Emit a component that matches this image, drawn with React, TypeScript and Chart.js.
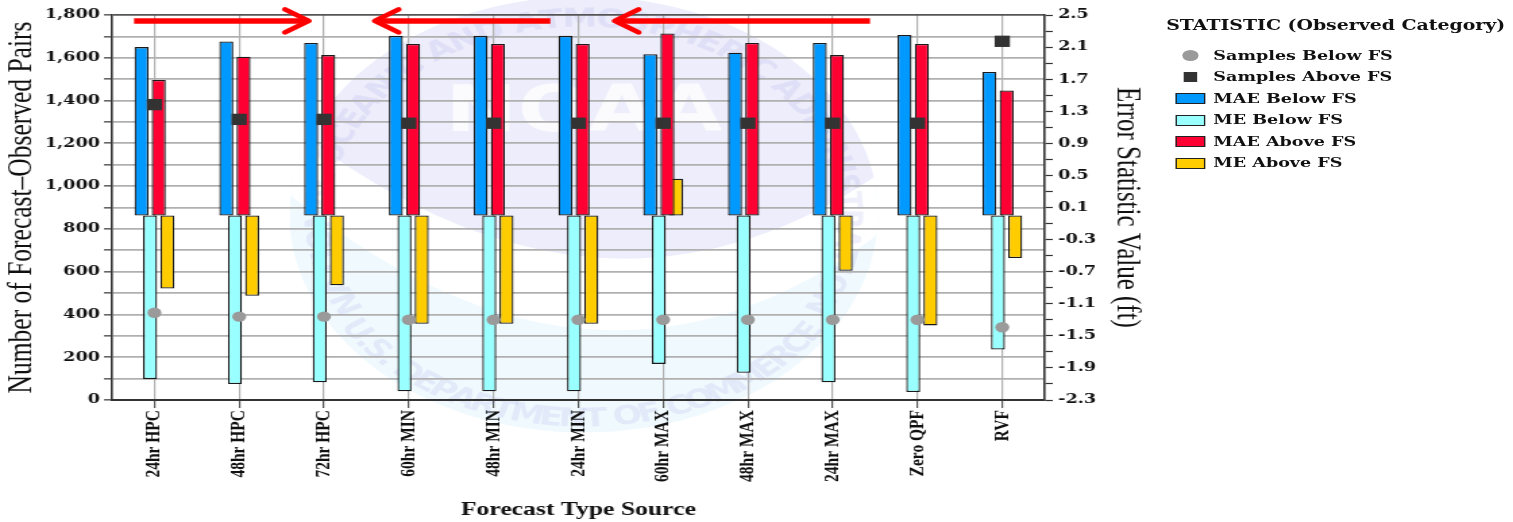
import React, { useEffect, useRef } from 'react';
import { Chart, registerables } from 'chart.js';

Chart.register(...registerables);

// Forecast sources along the category axis
const forecastSources = [
  '24hr HPC', '48hr HPC', '72hr HPC', '60hr MIN', '48hr MIN', '24hr MIN',
  '60hr MAX', '48hr MAX', '24hr MAX', 'Zero QPF', 'RVF',
];

// Number of forecast–observed pairs (left axis)
const samplesBelowFS = [408, 390, 390, 375, 375, 375, 375, 375, 375, 375, 340];
const samplesAboveFS = [1381, 1312, 1312, 1294, 1294, 1294, 1294, 1294, 1294, 1294, 1677];

// Error statistics in feet (right axis)
const maeBelowFS = [2.10, 2.17, 2.15, 2.24, 2.24, 2.24, 2.01, 2.03, 2.15, 2.25, 1.79];
const meBelowFS = [-2.04, -2.10, -2.08, -2.19, -2.19, -2.19, -1.85, -1.96, -2.08, -2.20, -1.67];
const maeAboveFS = [1.69, 1.98, 2.00, 2.14, 2.14, 2.14, 2.27, 2.15, 2.00, 2.14, 1.56];
const meAboveFS = [-0.91, -1.00, -0.87, -1.35, -1.35, -1.35, 0.46, null, -0.69, -1.37, -0.53];

// Tick values
const pairLabelValues = [0, 200, 400, 600, 800, 1000, 1200, 1400, 1600, 1800];
const pairMinorValues = [100, 300, 500, 700, 900, 1100, 1300, 1500, 1700];
const errorLabelValues = [-2.3, -1.9, -1.5, -1.1, -0.7, -0.3, 0.1, 0.5, 0.9, 1.3, 1.7, 2.1, 2.5];
const errorMinorValues = [-2.1, -1.7, -1.3, -0.9, -0.5, -0.1, 0.3, 0.7, 1.1, 1.5, 1.9, 2.3];

// Red direction arrows across the top: [tail, tip] in category-index units
const arrowSpans = [
  [-0.24, 1.82],
  [4.67, 2.6],
  [8.44, 5.43],
];
const arrowLevel = 1772;

// The chart is laid out on a 1121px-wide surface, then stretched to 1513px
const W = 1121;
const H = 522;
const STRETCH = 1513 / W;

const SERIF_BOLD = "'DejaVu Serif', serif";
const TIMES = "'Liberation Serif', 'Times New Roman', serif";

const COLORS = {
  maeBelow: '#0099ff',
  meBelow: '#99ffff',
  maeAbove: '#ff0033',
  meAbove: '#ffcc00',
  dot: '#9a9a9a',
  square: '#333333',
};

const legendItems = [
  { label: 'Samples Below FS', kind: 'dot', color: COLORS.dot },
  { label: 'Samples Above FS', kind: 'square', color: COLORS.square },
  { label: 'MAE Below FS', kind: 'box', color: COLORS.maeBelow },
  { label: 'ME Below FS', kind: 'box', color: COLORS.meBelow },
  { label: 'MAE Above FS', kind: 'box', color: COLORS.maeAbove },
  { label: 'ME Above FS', kind: 'box', color: COLORS.meAbove },
];

function arcText(ctx: CanvasRenderingContext2D, text: string, cx: number, cy: number, r: number, a0: number, a1: number, inward: boolean) {
  const chars = [...text];
  const widths = chars.map((ch) => ctx.measureText(ch).width);
  const total = widths.reduce((a, b) => a + b, 0);
  let acc = 0;
  chars.forEach((ch, i) => {
    const mid = (acc + widths[i] / 2) / total;
    acc += widths[i];
    const a = a0 + (a1 - a0) * mid;
    ctx.save();
    ctx.translate(cx + r * Math.cos(a), cy + r * Math.sin(a));
    ctx.rotate(inward ? a - Math.PI / 2 : a + Math.PI / 2);
    ctx.fillText(ch, 0, 0);
    ctx.restore();
  });
}

// Faint agency seal behind the plot
const watermarkPlugin = {
  id: 'sealWatermark',
  beforeDraw(chart: any) {
    const { ctx, chartArea } = chart;
    const cx = (chartArea.left + chartArea.right) / 2 + 4;
    const cy = (chartArea.top + chartArea.bottom) / 2 + 7;
    const R = 218;
    const deg = Math.PI / 180;
    ctx.save();
    ctx.fillStyle = '#ffffff';
    ctx.fillRect(0, 0, chart.width, chart.height);

    ctx.save();
    ctx.beginPath();
    ctx.arc(cx, cy, R, 0, Math.PI * 2);
    ctx.clip();
    ctx.fillStyle = '#f0fafe';
    ctx.fillRect(cx - R, cy - R, 2 * R, 2 * R);
    // white gull band
    ctx.fillStyle = '#ffffff';
    ctx.beginPath();
    ctx.moveTo(cx - R, cy - 90);
    ctx.quadraticCurveTo(cx + 10, cy + 150, cx + R, cy - 40);
    ctx.lineTo(cx + R, cy + 20);
    ctx.quadraticCurveTo(cx + 10, cy + 230, cx - R, cy - 20);
    ctx.closePath();
    ctx.fill();
    // sky
    ctx.fillStyle = '#ededfb';
    ctx.beginPath();
    ctx.moveTo(cx - R, cy - 90);
    ctx.quadraticCurveTo(cx + 10, cy + 150, cx + R, cy - 40);
    ctx.lineTo(cx + R, cy - R);
    ctx.lineTo(cx - R, cy - R);
    ctx.closePath();
    ctx.fill();
    ctx.restore();

    ctx.fillStyle = 'rgba(255,255,255,0.75)';
    ctx.font = "bold 64px 'DejaVu Sans', sans-serif";
    ctx.textAlign = 'center';
    ctx.textBaseline = 'middle';
    ctx.fillText('NOAA', cx, cy - 100);

    ctx.fillStyle = 'rgba(150,150,225,0.15)';
    ctx.font = "bold 26px 'DejaVu Sans', sans-serif";
    ctx.textBaseline = 'alphabetic';
    arcText(ctx, 'NATIONAL OCEANIC AND ATMOSPHERIC ADMINISTRATION', cx, cy, 188, 150 * deg, 390 * deg, false);
    arcText(ctx, 'U.S. DEPARTMENT OF COMMERCE', cx, cy, 212, 148 * deg, 33 * deg, true);
    ctx.restore();
  },
};

// Red arrows drawn over the top of the plot
const arrowPlugin = {
  id: 'directionArrows',
  afterDraw(chart: any) {
    const { ctx } = chart;
    const xs = chart.scales.x;
    const ys = chart.scales.y;
    const y = ys.getPixelForValue(arrowLevel);
    const catW = (xs.right - xs.left) / forecastSources.length;
    const head = 0.28 * catW;
    const spread = 11.5;
    ctx.save();
    ctx.strokeStyle = '#ff0000';
    arrowSpans.forEach(([from, to]) => {
      const x0 = xs.getPixelForValue(from);
      const x1 = xs.getPixelForValue(to);
      const dir = Math.sign(x1 - x0);
      ctx.lineWidth = 5.5;
      ctx.lineCap = 'butt';
      ctx.beginPath();
      ctx.moveTo(x0, y);
      ctx.lineTo(x1 - dir * 2, y);
      ctx.stroke();
      ctx.lineWidth = 4.5;
      ctx.lineCap = 'round';
      ctx.lineJoin = 'round';
      ctx.beginPath();
      ctx.moveTo(x1 - dir * head, y - spread);
      ctx.lineTo(x1, y);
      ctx.lineTo(x1 - dir * head, y + spread);
      ctx.stroke();
    });
    ctx.restore();
  },
};

const barStyle = {
  borderColor: '#1a1a1a',
  borderWidth: 1.3,
  borderSkipped: false,
  categoryPercentage: 0.406,
  barPercentage: 1.63,
  yAxisID: 'y1',
};

export default function App() {
  const canvasRef = useRef<HTMLCanvasElement | null>(null);

  useEffect(() => {
    const canvas = canvasRef.current;
    if (!canvas) return;
    const chart = new Chart(canvas, {
      type: 'bar',
      data: {
        labels: forecastSources,
        datasets: [
          {
            type: 'line',
            label: 'Samples Below FS',
            data: samplesBelowFS,
            yAxisID: 'y',
            showLine: false,
            borderColor: 'transparent',
            pointStyle: 'circle',
            pointRadius: 5.2,
            pointBackgroundColor: COLORS.dot,
            pointBorderWidth: 0,
            order: -1,
          },
          {
            type: 'line',
            label: 'Samples Above FS',
            data: samplesAboveFS,
            yAxisID: 'y',
            showLine: false,
            borderColor: 'transparent',
            pointStyle: 'rect',
            pointRadius: 8,
            pointBackgroundColor: COLORS.square,
            pointBorderWidth: 0,
            order: -1,
          },
          { label: 'MAE Below FS', data: maeBelowFS, backgroundColor: COLORS.maeBelow, ...barStyle },
          { label: 'ME Below FS', data: meBelowFS, backgroundColor: COLORS.meBelow, ...barStyle },
          { label: 'MAE Above FS', data: maeAboveFS, backgroundColor: COLORS.maeAbove, ...barStyle },
          { label: 'ME Above FS', data: meAboveFS, backgroundColor: COLORS.meAbove, ...barStyle },
        ] as any,
      },
      options: {
        responsive: false,
        animation: false,
        devicePixelRatio: 1,
        layout: { padding: { left: 0, top: 15, right: 267, bottom: 0 } },
        plugins: {
          legend: { display: false },
          tooltip: { enabled: false },
        },
        scales: {
          x: {
            grid: {
              offset: false,
              color: '#b0b0b0',
              lineWidth: 1.2,
              tickColor: '#555555',
              tickLength: 8,
            },
            border: { color: '#333333', width: 2 },
            ticks: {
              autoSkip: false,
              maxRotation: 90,
              minRotation: 90,
              padding: 2,
              color: '#111111',
              font: { family: TIMES, weight: 'bold', size: 15.5 },
            },
            title: {
              display: true,
              text: 'Forecast Type Source',
              color: '#111111',
              font: { family: TIMES, weight: 'bold', size: 19, lineHeight: 1 },
              padding: { top: 0, bottom: 2.5 },
            },
            afterFit: (s: any) => {
              s.height = 122;
            },
          },
          y: {
            position: 'left',
            min: 0,
            max: 1800,
            afterBuildTicks: (s: any) => {
              s.ticks = [...pairLabelValues, ...pairMinorValues]
                .sort((a, b) => a - b)
                .map((v) => ({ value: v }));
            },
            ticks: {
              autoSkip: false,
              padding: 3,
              color: '#111111',
              font: { family: SERIF_BOLD, weight: 'bold', size: 13 },
              callback: (v: any) => (pairLabelValues.includes(v) ? Number(v).toLocaleString('en-US') : ''),
            },
            grid: {
              color: (c: any) => (c.tick && c.tick.value === 1800 ? '#555555' : '#b0b0b0'),
              lineWidth: 1.7,
              tickColor: '#333333',
              tickLength: 6,
              tickWidth: 1.2,
            },
            border: { color: '#333333', width: 1.6 },
            title: {
              display: true,
              text: 'Number of Forecast–Observed Pairs',
              color: '#111111',
              font: { family: TIMES, size: 25.5, lineHeight: 1 },
              padding: { top: 4, bottom: 0 },
            },
            afterFit: (s: any) => {
              s.width = 83;
            },
          },
          y1: {
            position: 'right',
            min: -2.3,
            max: 2.5,
            afterBuildTicks: (s: any) => {
              s.ticks = [...errorLabelValues, ...errorMinorValues]
                .sort((a, b) => a - b)
                .map((v) => ({ value: v }));
            },
            ticks: {
              autoSkip: false,
              padding: 4,
              color: '#111111',
              font: { family: SERIF_BOLD, weight: 'bold', size: 13 },
              callback: (v: any) => (errorLabelValues.includes(v) ? Number(v).toFixed(1) : ''),
            },
            grid: {
              drawOnChartArea: false,
              tickColor: '#333333',
              tickLength: 6,
              tickWidth: 1.2,
            },
            border: { color: '#333333', width: 1.6 },
            title: {
              display: true,
              text: 'Error Statistic Value (ft)',
              color: '#111111',
              font: { family: TIMES, size: 25, lineHeight: 1 },
              padding: { top: 6.5, bottom: 0 },
            },
            afterFit: (s: any) => {
              s.width = 80;
            },
          },
        },
      } as any,
      plugins: [watermarkPlugin, arrowPlugin],
    });
    return () => chart.destroy();
  }, []);

  const rowCenter = (i: number) => 55.5 + i * 21.5;

  return (
    <div
      style={{
        position: 'absolute',
        left: 0,
        top: 0,
        width: W,
        height: H,
        transform: `scaleX(${STRETCH})`,
        transformOrigin: '0 0',
        background: '#ffffff',
      }}
    >
      <canvas ref={canvasRef} width={W} height={H} style={{ display: 'block' }} />
      <div style={{ position: 'absolute', left: 864, top: 0, width: 257, height: 200, color: '#111111' }}>
        <div
          style={{
            position: 'absolute',
            left: 0,
            top: 17,
            fontFamily: SERIF_BOLD,
            fontWeight: 'bold',
            fontSize: 14,
            lineHeight: '16px',
            whiteSpace: 'nowrap',
          }}
        >
          STATISTIC (Observed Category)
        </div>
        {legendItems.map((item, i) => {
          const c = rowCenter(i);
          let marker: any;
          if (item.kind === 'dot') {
            marker = { left: 12, top: c - 5.5, width: 12, height: 11, borderRadius: '50%', background: item.color };
          } else if (item.kind === 'square') {
            marker = { left: 13, top: c - 5, width: 10, height: 10, background: item.color };
          } else {
            marker = {
              left: 7,
              top: c - 5.5,
              width: 22,
              height: 11,
              background: item.color,
              border: '1.2px solid #222222',
              boxSizing: 'border-box',
            };
          }
          return (
            <React.Fragment key={item.label}>
              <div style={{ position: 'absolute', ...marker }} />
              <div
                style={{
                  position: 'absolute',
                  left: 35,
                  top: c - 8,
                  fontFamily: SERIF_BOLD,
                  fontWeight: 'bold',
                  fontSize: 13,
                  lineHeight: '16px',
                  whiteSpace: 'nowrap',
                }}
              >
                {item.label}
              </div>
            </React.Fragment>
          );
        })}
      </div>
    </div>
  );
}
